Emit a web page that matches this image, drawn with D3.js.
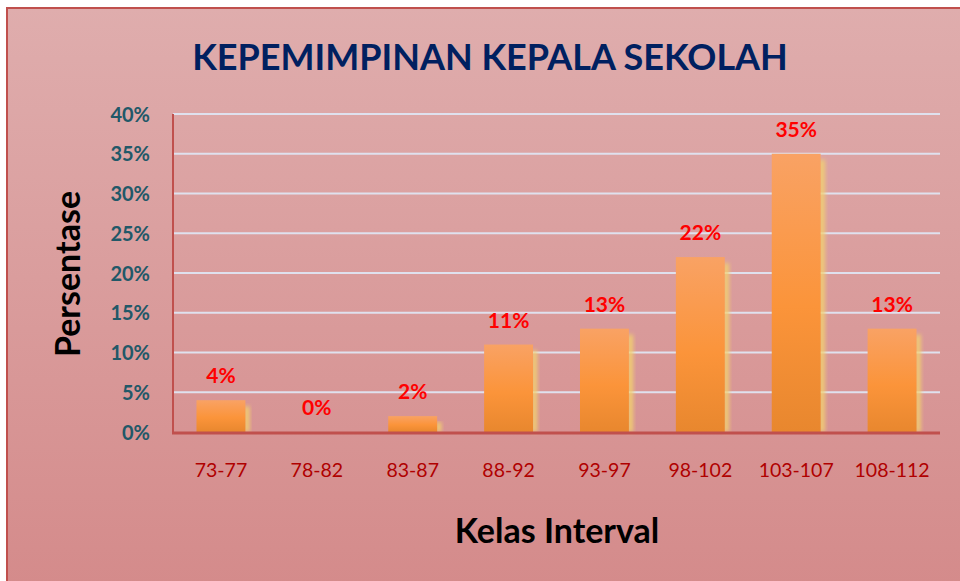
<!DOCTYPE html>
<meta charset="utf-8">
<style>
  body { margin: 0; overflow: hidden; background: #fff; }
  text { font-family: Lato, "Open Sans", sans-serif; }
</style>
<svg width="960" height="581"></svg>
<script src="https://cdn.jsdelivr.net/npm/d3@7"></script>
<script>

var categories = ["73-77", "78-82", "83-87", "88-92", "93-97", "98-102", "103-107", "108-112"];
var values = [4, 0, 2, 11, 13, 22, 35, 13];
var yTicks = [0, 5, 10, 15, 20, 25, 30, 35, 40];

var svg = d3.select("svg"),
    width = +svg.attr("width"),
    height = +svg.attr("height");

var defs = svg.append("defs");

var bg = defs.append("linearGradient").attr("id", "bg")
    .attr("x1", 0).attr("y1", 0).attr("x2", 0).attr("y2", 1);
bg.append("stop").attr("offset", "0%").attr("stop-color", "#dfadad");
bg.append("stop").attr("offset", "100%").attr("stop-color", "#d48a8a");

var barGrad = defs.append("linearGradient").attr("id", "barGrad")
    .attr("x1", 0).attr("y1", 0).attr("x2", 0).attr("y2", 1);
barGrad.append("stop").attr("offset", "0%").attr("stop-color", "#f9a264");
barGrad.append("stop").attr("offset", "55%").attr("stop-color", "#fb943a");
barGrad.append("stop").attr("offset", "100%").attr("stop-color", "#e8872e");

var blur = defs.append("filter").attr("id", "glow")
    .attr("x", "-50%").attr("y", "-10%").attr("width", "200%").attr("height", "120%");
blur.append("feGaussianBlur").attr("stdDeviation", 2);

// chart area background with border
svg.append("rect")
    .attr("x", 7).attr("y", 8)
    .attr("width", width + 10).attr("height", height + 10)
    .attr("fill", "url(#bg)")
    .attr("stroke", "#c0504d")
    .attr("stroke-width", 2);

var x = d3.scaleBand()
    .domain(categories)
    .range([173, 940])
    .paddingInner(0.49)
    .paddingOuter(0.245);

var y = d3.scaleLinear()
    .domain([0, 40])
    .range([432, 114]);

// gridlines
svg.append("g")
    .selectAll("line")
    .data(yTicks.slice(1))
  .enter().append("line")
    .attr("x1", 173).attr("x2", 940)
    .attr("y1", function(d) { return y(d); })
    .attr("y2", function(d) { return y(d); })
    .attr("stroke", "#dfe1ee")
    .attr("stroke-width", 2);

// y axis labels
svg.append("g")
    .call(d3.axisLeft(y).tickValues(yTicks).tickSize(0).tickPadding(23)
      .tickFormat(function(d) { return d + "%"; }))
    .attr("transform", "translate(173,0)")
    .call(function(g) { g.select(".domain").remove(); })
  .selectAll("text")
    .attr("fill", "#215868")
    .attr("font-size", "20px")
    .attr("font-weight", "bold")
    .style("font-family", "Lato, sans-serif")
    .attr("dy", "0.36em");

// bar glow on right side
svg.append("g")
    .selectAll("rect")
    .data(values)
  .enter().append("rect")
    .attr("x", function(d, i) { return x(categories[i]) + x.bandwidth() - 1; })
    .attr("y", function(d) { return y(d) + 6; })
    .attr("width", 5)
    .attr("height", function(d) { return Math.max(0, y(0) - y(d) - 6); })
    .attr("fill", "#f2d070")
    .attr("filter", "url(#glow)");

// bars
svg.append("g")
    .selectAll("rect")
    .data(values)
  .enter().append("rect")
    .attr("x", function(d, i) { return x(categories[i]); })
    .attr("y", function(d) { return y(d); })
    .attr("width", x.bandwidth())
    .attr("height", function(d) { return y(0) - y(d); })
    .attr("fill", "url(#barGrad)");

// axes lines
svg.append("line")
    .attr("x1", 173).attr("x2", 173).attr("y1", 114).attr("y2", 433)
    .attr("stroke", "#c0504d").attr("stroke-width", 2);
svg.append("line")
    .attr("x1", 172).attr("x2", 940).attr("y1", 433).attr("y2", 433)
    .attr("stroke", "#c0504d").attr("stroke-width", 3);

// value labels
svg.append("g")
    .selectAll("text")
    .data(values)
  .enter().append("text")
    .attr("x", function(d, i) { return x(categories[i]) + x.bandwidth() / 2; })
    .attr("y", function(d) { return y(d) - 17; })
    .attr("text-anchor", "middle")
    .attr("fill", "#ff0000")
    .attr("font-size", "21px")
    .attr("font-weight", "bold")
    .text(function(d) { return d + "%"; });

// x axis labels
svg.append("g")
    .attr("transform", "translate(0,433)")
    .call(d3.axisBottom(x).tickSize(0).tickPadding(30))
    .call(function(g) { g.select(".domain").remove(); })
  .selectAll("text")
    .attr("fill", "#b00000")
    .attr("font-size", "19.5px")
    .style("font-family", "Lato, sans-serif");

// title
svg.append("text")
    .attr("x", 490).attr("y", 70)
    .attr("text-anchor", "middle")
    .attr("fill", "#002060")
    .attr("font-size", "36px")
    .attr("font-weight", "bold")
    .text("KEPEMIMPINAN KEPALA SEKOLAH");

// y axis title
svg.append("text")
    .attr("transform", "translate(80,274) rotate(-90)")
    .attr("text-anchor", "middle")
    .attr("fill", "#000")
    .attr("font-size", "34px")
    .attr("font-weight", "bold")
    .text("Persentase");

// x axis title
svg.append("text")
    .attr("x", 557).attr("y", 543)
    .attr("text-anchor", "middle")
    .attr("fill", "#000")
    .attr("font-size", "34px")
    .attr("font-weight", "bold")
    .text("Kelas Interval");

</script>
